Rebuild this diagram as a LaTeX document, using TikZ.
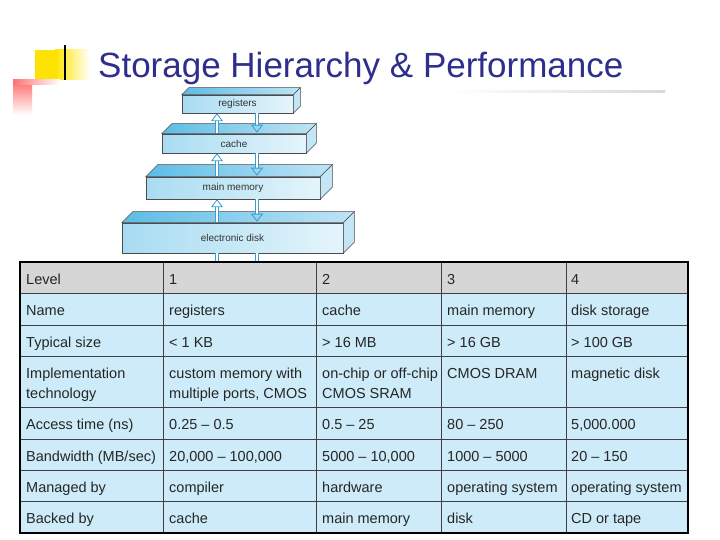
\documentclass[tikz,border=0pt]{standalone}
\usepackage{fontspec}
\setmainfont{Liberation Sans}
\usetikzlibrary{calc,arrows.meta}
\definecolor{titleblue}{HTML}{2E2E8C}
\definecolor{cellblue}{HTML}{CDEBF8}
\definecolor{cellgray}{HTML}{D6D6D6}
\definecolor{slabfront}{HTML}{A8DCF2}
\definecolor{slabtop}{HTML}{5DBCE6}
\definecolor{arrowc}{HTML}{3A9ED0}
\tikzset{
  slab/.style={draw=black!70, line width=0.5pt, left color=slabfront, right color=slabfront!30, inner sep=0pt},
  slabtext/.style={font=\fontsize{10}{12}\selectfont, text=black!80},
  topface/.style={draw=black!70, line width=0.5pt, left color=slabtop, right color=slabtop!40},
  sideface/.style={draw=black!70, line width=0.5pt, fill=slabfront!70},
  flow/.style={draw=arrowc, double=white, double distance=2pt, line width=0.8pt, -{Triangle[open,length=8pt,width=12pt]}},
  stub/.style={draw=arrowc, double=white, double distance=2pt, line width=0.8pt},
  cell/.style={anchor=north west, align=left, inner sep=0pt, font=\fontsize{14.5}{20.5}\selectfont, text=black!85},
  grid/.style={draw=black!75, line width=0.9pt}
}
\begin{document}
\begin{tikzpicture}[x=1pt,y=-1pt]
\useasboundingbox (0,0) rectangle (720,540);
\fill[white] (0,0) rectangle (720,540);
% decoration
\shade[left color=yellow!80!orange, right color=white] (55,50) rectangle (90,80);
\fill[yellow!85!orange] (35,50) rectangle (58,80);
\shade[top color=red!55, bottom color=white] (13,82) rectangle (32,115);
\shade[left color=red!55, right color=white] (13,80) rectangle (60,85);
\draw[line width=1.5pt] (65,45) -- (65,80);
\shade[left color=white, right color=black!15] (450,91) rectangle (665,93);
\node[anchor=base west, inner sep=0pt, text=titleblue, font=\fontsize{35}{38}\selectfont] (title) at (98,78) {Storage Hierarchy \& Performance};
% slabs
\newcommand{\drawslab}[6]{% name, x1,y1,x2,y2, depth
  \node[slab, minimum width=#4-#2, minimum height=#5-#3] (#1) at ({(#2+#4)/2},{(#3+#5)/2}) {};
  \path[topface] (#1.north west) -- ++(#6,-#6) -- ($(#1.north east)+(#6,-#6)$) -- (#1.north east) -- cycle;
  \path[sideface] (#1.north east) -- ++(#6,-#6) -- ($(#1.south east)+(#6,-#6)$) -- (#1.south east) -- cycle;
}
\drawslab{reg}{182}{95}{293}{113}{7}
\drawslab{cac}{162}{134}{306}{153}{10}
\drawslab{mem}{146}{177}{320}{199}{12}
\drawslab{dsk}{122}{223}{343}{253}{11}
\node[slabtext] at (reg) {registers};
\node[slabtext] at (cac) {cache};
\node[slabtext] at (mem) {main memory};
\node[slabtext] at (dsk) {electronic disk};
\coordinate (ux) at (217,0);
\coordinate (dx) at (257,0);
\foreach \lo/\hi in {cac/reg, mem/cac, dsk/mem}{
  \draw[flow] ($(\lo.north west -| ux)+(0,-1)$) -- (\hi.south west -| ux);
  \draw[flow] (\hi.south west -| dx) -- ($(\lo.north west -| dx)+(0,-1)$);
}
\coordinate (tb) at (0,262);
\draw[stub] (dsk.south west -| ux) -- (tb -| ux);
\draw[stub] (dsk.south west -| dx) -- (tb -| dx);
% table
\fill[cellgray] (20,262) rectangle (688,293);
\fill[cellblue] (20,293) rectangle (688,533);
\foreach \y in {293,325,356,407,439,470,501}{ \draw[grid] (20,\y) -- (688,\y); }
\foreach \x in {163,316,441,566}{ \draw[grid] (\x,262) -- (\x,533); }
\draw[black, line width=2pt] (20,262) rectangle (688,533);
\foreach \r/\yc/\a/\b/\c/\d/\e in {
 0/270/Level/1/2/3/4,
 1/301/Name/registers/cache/main memory/disk storage,
 2/332.5/Typical size/{< 1 KB}/{> 16 MB}/{> 16 GB}/{> 100 GB},
 3/363.5/{Implementation\\technology}/{custom memory with\\multiple ports, CMOS}/{on-chip or off-chip\\CMOS SRAM}/CMOS DRAM/magnetic disk,
 4/415/Access time (ns)/{0.25 – 0.5}/{0.5 – 25}/{80 – 250}/{5,000.000},
 5/446.5/{Bandwidth (MB/sec)}/{20,000 – 100,000}/{5000 – 10,000}/{1000 – 5000}/{20 – 150},
 6/477.5/Managed by/compiler/hardware/operating system/operating system,
 7/509/Backed by/cache/main memory/disk/CD or tape}{
  \node[cell] (c\r a) at (26,\yc) {\strut\a};
  \node[cell] (c\r b) at (169,\yc) {\strut\b};
  \node[cell] (c\r c) at (322,\yc) {\strut\c};
  \node[cell] (c\r d) at (447,\yc) {\strut\d};
  \node[cell] (c\r e) at (571,\yc) {\strut\e};
}
\end{tikzpicture}
\end{document}
